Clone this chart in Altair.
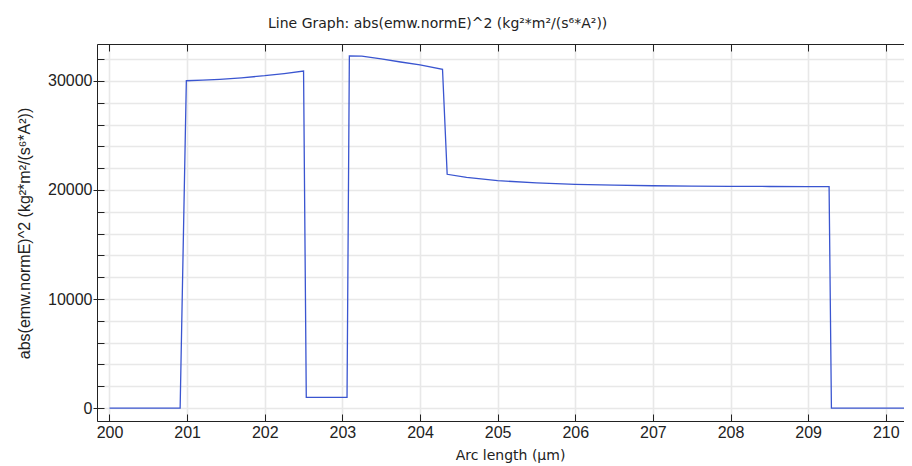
import altair as alt
import pandas as pd

arc_length = [200.0, 200.91, 200.99, 201.2, 201.42, 201.7, 202.0, 202.25, 202.5,
              202.535, 203.06,
              203.09, 203.25, 203.5, 203.75, 204.0, 204.29,
              204.35, 204.6, 205.0, 205.5, 206.0, 206.5, 207.0, 207.5, 208.0, 208.5, 209.0, 209.27,
              209.3, 210.3]
field_sq = [0, 0, 30020, 30070, 30150, 30290, 30480, 30680, 30910,
            980, 980,
            32290, 32270, 32020, 31740, 31470, 31070,
            21440, 21150, 20850, 20660, 20520, 20440, 20390, 20360, 20335, 20320, 20305, 20300,
            0, 0]

x_ticks = list(range(200, 211))
y_grid = list(range(0, 33000, 2000))
y_major = [0, 10000, 20000, 30000]

df = pd.DataFrame({"arc": arc_length, "val": field_sq})

xscale = alt.Scale(domain=[199.839, 210.235], nice=False, zero=False)
yscale = alt.Scale(domain=[-1190, 33390], nice=False, zero=False)

AX = "#222222"
GRID = "#e8e8e8"
LINE = "#3a55d0"

base = alt.Chart(df)

# main line with primary axes
xA = alt.Axis(orient="bottom", values=x_ticks, format="d", grid=True, gridColor=GRID, gridWidth=1.6,
              ticks=False, domain=True, domainColor=AX, labelFont="Liberation Sans", labelFontSize=16,
              labelColor=AX, labelPadding=3, labelFlush=False, labelOverlap=False,
              title="Arc length (µm)", titleFont="DejaVu Sans", titleFontSize=14, titleFontWeight="normal",
              titleColor=AX, titleX=413, titleY=38, titleBaseline="alphabetic", titleAlign="center")
yA = alt.Axis(orient="left", values=y_grid, format="d",
              labelExpr="datum.value % 10000 == 0 ? datum.label : ''",
              grid=True, gridColor=GRID, gridWidth=1.6, ticks=False, domain=True, domainColor=AX,
              labelFont="Liberation Sans", labelFontSize=16, labelColor=AX, labelPadding=5,
              labelOverlap=False,
              title="abs(emw.normE)^2 (kg²*m²/(s⁶*A²))", titleFont="Liberation Sans", titleFontSize=16,
              titleFontWeight="normal", titleColor=AX, titleX=-73, titleY=189, titleAlign="center",
              titleBaseline="middle")
main = base.mark_line(color=LINE, strokeWidth=1.3, clip=True).encode(
    x=alt.X("arc:Q", scale=xscale, axis=xA),
    y=alt.Y("val:Q", scale=yscale, axis=yA),
)

# inward ticks bottom / left minor
xB = alt.Axis(orient="bottom", values=x_ticks, offset=-7, ticks=True, tickSize=7, tickColor=AX,
              labels=False, domain=False, grid=False, title="")
yB = alt.Axis(orient="left", values=y_grid, offset=-7, ticks=True, tickSize=7, tickColor=AX,
              labels=False, domain=False, grid=False, title="")
l2 = base.mark_line(opacity=0, clip=True).encode(
    x=alt.X("arc:Q", scale=xscale, axis=xB),
    y=alt.Y("val:Q", scale=yscale, axis=yB),
)

# top border and outward major ticks on left
xC = alt.Axis(orient="top", values=x_ticks, ticks=False, labels=False, domain=True, domainColor=AX,
              grid=False, title="")
yC = alt.Axis(orient="left", values=y_major, ticks=True, tickSize=4, tickColor=AX,
              labels=False, domain=False, grid=False, title="")
l3 = base.mark_line(opacity=0, clip=True).encode(
    x=alt.X("arc:Q", scale=xscale, axis=xC),
    y=alt.Y("val:Q", scale=yscale, axis=yC),
)

# inward ticks on top
xD = alt.Axis(orient="top", values=x_ticks, offset=-7, ticks=True, tickSize=7, tickColor=AX,
              labels=False, domain=False, grid=False, title="")
l4 = base.mark_line(opacity=0, clip=True).encode(
    x=alt.X("arc:Q", scale=xscale, axis=xD),
    y=alt.Y("val:Q", scale=yscale, axis=None),
)

chart = alt.layer(main, l2, l3, l4).resolve_axis(x="independent", y="independent").properties(
    width=807, height=377,
    padding={"left": 89, "top": 36, "right": 0, "bottom": 45},
    autosize=alt.AutoSizeParams(type="none"),
    title=alt.TitleParams(text="Line Graph: abs(emw.normE)^2 (kg²*m²/(s⁶*A²))", anchor="start",
                          frame="group", dx=171, offset=2, baseline="alphabetic",
                          font="DejaVu Sans", fontSize=14, fontWeight="normal", color=AX),
).configure_view(strokeWidth=0).configure(background="white")

chart.save("out.html", embed_options={"renderer": "svg", "actions": False})
